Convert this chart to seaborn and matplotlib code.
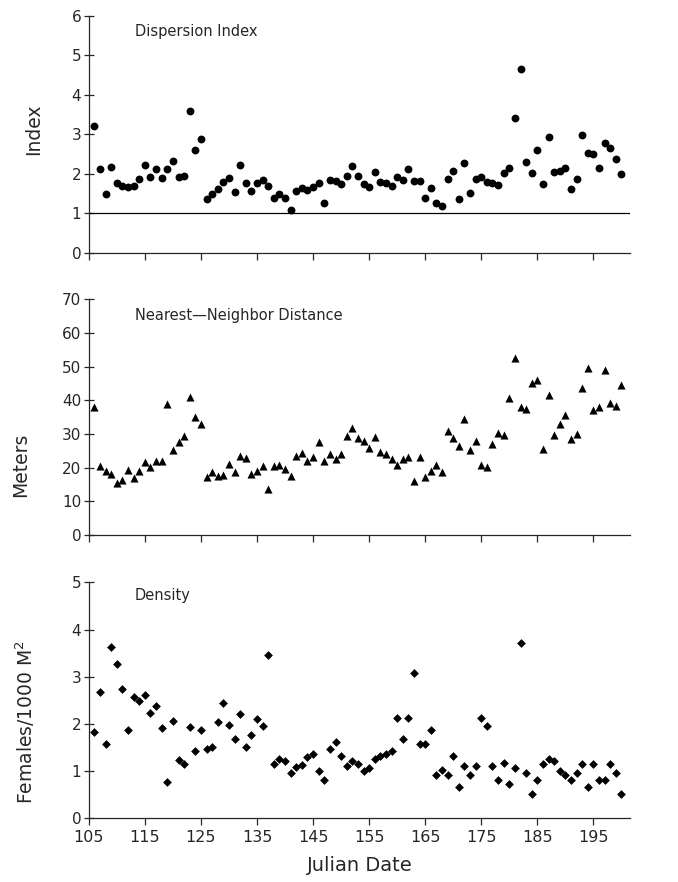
import numpy as np
import pandas as pd
import matplotlib
matplotlib.use("Agg")
import matplotlib.pyplot as plt
import seaborn as sns

# Julian dates (one sample per day)
days = list(range(106, 201))

# Dispersion index
dispersion = [
    3.21, 2.12, 1.49, 2.18, 1.76, 1.69, 1.67, 1.69, 1.87, 2.21,
    1.91, 2.13, 1.90, 2.13, 2.31, 1.91, 1.95, 3.59, 2.60, 2.87,
    1.35, 1.48, 1.60, 1.80, 1.88, 1.54, 2.23, 1.77, 1.56, 1.77,
    1.84, 1.68, 1.39, 1.48, 1.38, 1.08, 1.55, 1.65, 1.59, 1.67,
    1.76, 1.25, 1.84, 1.82, 1.73, 1.93, 2.20, 1.93, 1.73, 1.66,
    2.04, 1.80, 1.77, 1.69, 1.91, 1.84, 2.11, 1.81, 1.82, 1.38,
    1.65, 1.27, 1.18, 1.86, 2.08, 1.35, 2.28, 1.52, 1.86, 1.91,
    1.80, 1.77, 1.71, 2.01, 2.15, 3.42, 4.64, 2.30, 2.03, 2.60,
    1.74, 2.94, 2.04, 2.08, 2.14, 1.60, 1.86, 2.98, 2.53, 2.50,
    2.15, 2.77, 2.66, 2.36, 1.99,
]

# Nearest-neighbor distance (m)
nn_dist = [
    38.0, 20.6, 18.9, 18.1, 15.4, 16.2, 19.4, 16.9, 18.9, 21.6,
    20.2, 21.9, 21.9, 39.0, 25.2, 27.6, 29.3, 41.1, 35.0, 33.1,
    17.2, 18.8, 17.6, 17.8, 21.1, 18.6, 23.6, 22.9, 18.2, 18.9,
    20.6, 13.8, 20.4, 20.8, 19.7, 17.4, 23.6, 24.4, 21.9, 23.2,
    27.6, 21.9, 24.1, 22.6, 24.2, 29.3, 31.8, 28.7, 27.8, 25.7,
    29.2, 24.7, 24.2, 22.6, 20.8, 22.6, 23.2, 16.1, 23.2, 17.2,
    18.9, 20.9, 18.6, 31.0, 28.9, 26.4, 34.5, 25.2, 27.9, 20.8,
    20.1, 26.9, 30.4, 29.6, 40.8, 52.7, 37.9, 37.5, 45.3, 46.0,
    25.6, 41.5, 29.6, 33.0, 35.7, 28.4, 30.1, 43.8, 49.5, 37.0,
    38.0, 49.0, 39.3, 38.3, 44.6,
]

# Density (females / 1000 m^2)
density = [
    1.82, 2.67, 1.58, 3.62, 3.26, 2.73, 1.88, 2.56, 2.49, 2.61,
    2.24, 2.37, 1.92, 0.77, 2.07, 1.23, 1.16, 1.93, 1.42, 1.87,
    1.47, 1.51, 2.05, 2.45, 1.98, 1.68, 2.22, 1.51, 1.77, 2.11,
    1.96, 3.47, 1.16, 1.25, 1.22, 0.95, 1.08, 1.14, 1.30, 1.36,
    1.01, 0.81, 1.46, 1.61, 1.32, 1.11, 1.22, 1.16, 1.01, 1.06,
    1.25, 1.32, 1.37, 1.42, 2.13, 1.67, 2.13, 3.07, 1.57, 1.57,
    1.87, 0.92, 1.02, 0.92, 1.32, 0.66, 1.11, 0.91, 1.11, 2.13,
    1.96, 1.11, 0.82, 1.18, 0.72, 1.06, 3.71, 0.96, 0.51, 0.81,
    1.16, 1.25, 1.21, 1.01, 0.92, 0.81, 0.96, 1.16, 0.66, 1.16,
    0.81, 0.81, 1.16, 0.96, 0.51,
]

xticks = list(range(105, 200, 10))

df = pd.DataFrame({'day': days, 'dispersion': dispersion,
                   'nn': nn_dist, 'density': density})

sns.set_style("ticks")
plt.rcParams['font.family'] = ['DejaVu Sans']
plt.rcParams['axes.linewidth'] = 0.9

fig = plt.figure(figsize=(6.78, 8.82), dpi=100)

left, width = 0.131, 0.798
ax1 = fig.add_axes([left, 0.7135, width, 0.2687])
ax2 = fig.add_axes([left, 0.3934, width, 0.2672])
ax3 = fig.add_axes([left, 0.0722, width, 0.2676])

panels = [
    (ax1, 'dispersion', 'o', 32, (0, 6), 1, 'Index', 'Dispersion Index', 0.935, (-0.085, 0.52)),
    (ax2, 'nn', '^', 34, (0, 70), 10, 'Meters', 'Nearest\u2014Neighbor Distance', 0.933, (-0.108, 0.30)),
    (ax3, 'density', 'D', 20, (0, 5), 1, 'Females/1000 M$^2$', 'Density', 0.946, (-0.096, 0.41)),
]

for ax, col, marker, size, ylim, step, ylabel, title, ty, lab_xy in panels:
    sns.scatterplot(data=df, x='day', y=col, ax=ax, marker=marker, s=size,
                    color='black', linewidth=0, clip_on=False)
    ax.set_xlim(105, 201.5)
    ax.set_ylim(*ylim)
    ax.set_yticks(np.arange(ylim[0], ylim[1] + step, step))
    ax.set_xticks(xticks)
    sns.despine(ax=ax)
    ax.tick_params(axis='y', direction='inout', length=7, width=0.9,
                   labelsize=11, pad=2)
    ax.tick_params(axis='x', direction='out', length=5, width=0.9,
                   labelsize=11.5)
    ax.set_xlabel('')
    ax.set_ylabel(ylabel, fontsize=13.5)
    ax.yaxis.set_label_coords(*lab_xy)
    ax.text(0.085, ty, title, transform=ax.transAxes, fontsize=10.5,
            ha='left', va='center')

ax1.axhline(1, color='black', linewidth=0.9)
ax1.set_xticklabels([])
ax2.set_xticklabels([])
ax3.set_xlabel('Julian Date', fontsize=14, labelpad=8)

fig.savefig('out.png', dpi=100)
